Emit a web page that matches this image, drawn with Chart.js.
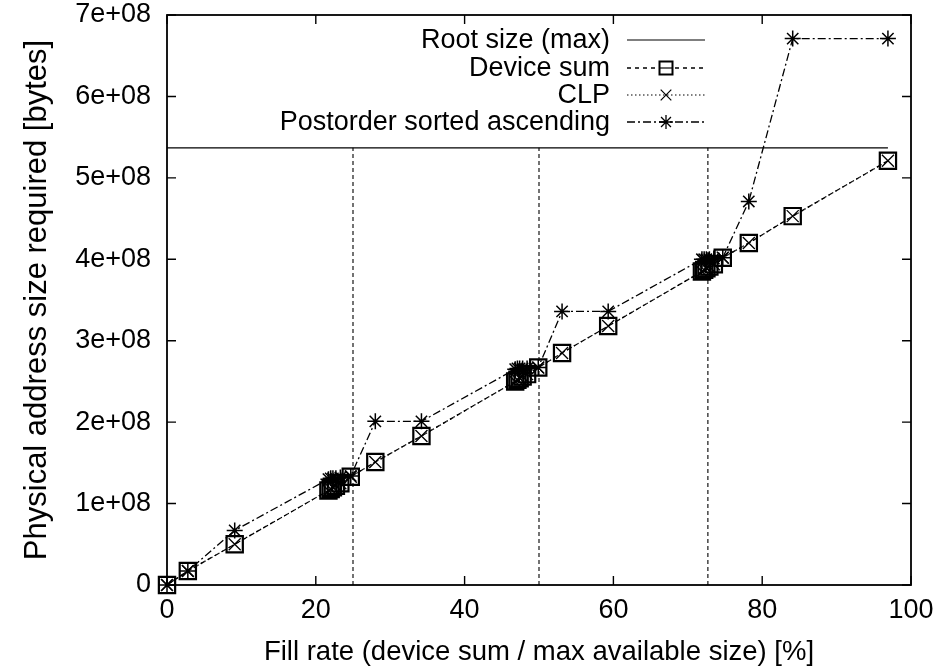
<!DOCTYPE html>
<html>
<head>
<meta charset="utf-8">
<script src="https://cdn.jsdelivr.net/npm/chart.js@4.4.1/dist/chart.umd.min.js"></script>
<style>
  body { margin: 0; background: #fff; }
  #wrap { width: 943px; height: 671px; }
</style>
</head>
<body>
<div id="wrap"><canvas id="addrChart" width="943" height="671"></canvas></div>
<script>
// =====================================
// DATA
// =====================================
const fillRate = [0, 2.8, 9.1, 21.7, 22.0, 22.3, 22.7, 23.3, 24.7, 28.0, 34.2,
  46.8, 47.1, 47.4, 47.8, 48.4, 49.9, 53.1, 59.3,
  71.9, 72.2, 72.5, 72.9, 73.5, 74.7, 78.2, 84.1, 96.9];

const deviceSum = [0, 1.72e7, 5.0e7, 1.16e8, 1.18e8, 1.20e8, 1.22e8, 1.25e8, 1.33e8, 1.51e8, 1.83e8,
  2.50e8, 2.52e8, 2.54e8, 2.56e8, 2.59e8, 2.67e8, 2.85e8, 3.18e8,
  3.85e8, 3.87e8, 3.89e8, 3.91e8, 3.94e8, 4.02e8, 4.20e8, 4.53e8, 5.21e8];

const clpSize = [0, 1.72e7, 5.0e7, 1.16e8, 1.18e8, 1.20e8, 1.22e8, 1.25e8, 1.33e8, 1.51e8, 1.83e8,
  2.50e8, 2.52e8, 2.54e8, 2.56e8, 2.59e8, 2.67e8, 2.85e8, 3.18e8,
  3.85e8, 3.87e8, 3.89e8, 3.91e8, 3.94e8, 4.02e8, 4.20e8, 4.53e8, 5.21e8];

const postorderSize = [0, 1.72e7, 6.7e7, 1.30e8, 1.31e8, 1.31e8, 1.31e8, 1.32e8, 1.34e8, 2.01e8, 2.01e8,
  2.65e8, 2.66e8, 2.66e8, 2.66e8, 2.66e8, 2.67e8, 3.36e8, 3.36e8,
  4.00e8, 4.00e8, 4.00e8, 4.00e8, 4.01e8, 4.02e8, 4.71e8, 6.71e8, 6.71e8];

const rootSize = 536870912;          // Root size (max)
const rootRange = [0, 96.9];
const boundaryRates = [25, 50, 72.7]; // vertical dashed markers

const xTicks = [0, 20, 40, 60, 80, 100];
const yTickLabels = ["0", "1e+08", "2e+08", "3e+08", "4e+08", "5e+08", "6e+08", "7e+08"];

const FONT = "'Liberation Sans', Arial, Helvetica, sans-serif";
const FONT_SIZE = 27;

function toPoints(xs, ys) {
  return xs.map((x, i) => ({ x: x, y: ys[i] }));
}

// =====================================
// DATASETS
// =====================================
const datasets = [
  {
    label: "Root size (max)",
    data: rootRange.map(x => ({ x: x, y: rootSize })),
    borderColor: "#000",
    borderWidth: 1.2,
    pointRadius: 0
  },
  {
    label: "Device sum",
    data: toPoints(fillRate, deviceSum),
    borderColor: "#000",
    borderWidth: 1.3,
    borderDash: [4, 4],
    pointStyle: "rect",
    pointRadius: 11.5,
    pointBorderWidth: 2.2,
    pointBackgroundColor: "rgba(255,255,255,0)",
    pointBorderColor: "#000"
  },
  {
    label: "CLP",
    data: toPoints(fillRate, clpSize),
    borderColor: "#000",
    borderWidth: 1.2,
    borderDash: [1.5, 2.5],
    pointStyle: "crossRot",
    pointRadius: 8.5,
    pointBorderWidth: 1.3,
    pointBorderColor: "#000"
  },
  {
    label: "Postorder sorted ascending",
    data: toPoints(fillRate, postorderSize),
    borderColor: "#000",
    borderWidth: 1.3,
    borderDash: [8, 3, 2, 3],
    pointStyle: "star",
    pointRadius: 8,
    pointBorderWidth: 1.5,
    pointBorderColor: "#000"
  }
];

boundaryRates.forEach(r => {
  datasets.push({
    label: "",
    data: [{ x: r, y: 0 }, { x: r, y: rootSize }],
    borderColor: "#000",
    borderWidth: 1.1,
    borderDash: [4, 3],
    pointRadius: 0
  });
});

datasets.forEach(d => { d.clip = false; d.tension = 0; d.fill = false; });

// =====================================
// PLUGINS: gnuplot-style frame + inward ticks, legend
// =====================================
const framePlugin = {
  id: "frame",
  afterDatasetsDraw(chart) {
    const { ctx, chartArea: a, scales } = chart;
    const len = 9;
    ctx.save();
    ctx.strokeStyle = "#000";
    ctx.lineWidth = 1.8;
    ctx.setLineDash([]);
    ctx.strokeRect(a.left, a.top, a.right - a.left, a.bottom - a.top);
    ctx.lineWidth = 1.4;
    ctx.beginPath();
    yTickLabels.forEach((_, i) => {
      const y = scales.y.getPixelForValue(i * 1e8);
      ctx.moveTo(a.left, y); ctx.lineTo(a.left + len, y);
      ctx.moveTo(a.right, y); ctx.lineTo(a.right - len, y);
    });
    xTicks.forEach(v => {
      const x = scales.x.getPixelForValue(v);
      ctx.moveTo(x, a.bottom); ctx.lineTo(x, a.bottom - len);
      ctx.moveTo(x, a.top); ctx.lineTo(x, a.top + len);
    });
    ctx.stroke();
    ctx.restore();
  }
};

const legendPlugin = {
  id: "gpLegend",
  afterDraw(chart) {
    const ctx = chart.ctx;
    const textRight = 610;
    const lineLeft = 627, lineRight = 705;
    const mid = (lineLeft + lineRight) / 2;
    const rows = [40, 68, 95, 122];
    ctx.save();
    ctx.font = FONT_SIZE + "px " + FONT;
    ctx.fillStyle = "#000";
    ctx.textAlign = "right";
    ctx.textBaseline = "middle";
    chart.data.datasets.slice(0, 4).forEach((d, i) => {
      const y = rows[i];
      ctx.fillText(d.label, textRight, y + 1);
      ctx.strokeStyle = "#000";
      ctx.lineWidth = d.borderWidth;
      ctx.setLineDash(d.borderDash || []);
      ctx.beginPath();
      ctx.moveTo(lineLeft, y);
      ctx.lineTo(lineRight, y);
      ctx.stroke();
      ctx.setLineDash([]);
      if (!d.pointRadius) return;
      if (d.pointStyle === "rect") {
        // key square: white box with a bar through it
        const s = 6.5;
        ctx.fillStyle = "#fff";
        ctx.fillRect(mid - s, y - s, 2 * s, 2 * s);
        ctx.lineWidth = 2;
        ctx.strokeRect(mid - s, y - s, 2 * s, 2 * s);
        ctx.lineWidth = 1.2;
        ctx.beginPath();
        ctx.moveTo(mid - s, y);
        ctx.lineTo(mid + s, y);
        ctx.stroke();
        ctx.fillStyle = "#000";
      } else {
        Chart.helpers.drawPoint(ctx, {
          pointStyle: d.pointStyle,
          radius: d.pointRadius - 1,
          rotation: 0,
          borderWidth: d.pointBorderWidth
        }, mid, y);
      }
    });
    ctx.restore();
  }
};

// =====================================
// CHART
// =====================================
const chartInstance = new Chart(document.getElementById("addrChart"), {
  type: "line",
  data: { datasets: datasets },
  plugins: [framePlugin, legendPlugin],
  options: {
    responsive: false,
    animation: false,
    layout: { padding: { left: 0, right: 32, top: 15, bottom: 0 } },
    plugins: {
      legend: { display: false },
      tooltip: { enabled: false }
    },
    scales: {
      x: {
        type: "linear",
        min: 0,
        max: 100,
        afterFit: s => { s.height = 86; s.paddingLeft = 0; s.paddingRight = 0; },
        afterBuildTicks: s => { s.ticks = xTicks.map(v => ({ value: v })); },
        grid: { display: false, drawTicks: false },
        border: { display: false },
        ticks: {
          color: "#000",
          padding: 9,
          maxRotation: 0,
          font: { family: FONT, size: FONT_SIZE }
        },
        title: {
          display: true,
          text: "Fill rate (device sum / max available size) [%]",
          color: "#000",
          padding: { top: 0, bottom: 2 },
          font: { family: FONT, size: 27.5 }
        }
      },
      y: {
        type: "linear",
        min: 0,
        max: 7e8,
        afterFit: s => { s.width = 167; s.paddingTop = 0; s.paddingBottom = 0; },
        afterBuildTicks: s => { s.ticks = yTickLabels.map((_, i) => ({ value: i * 1e8 })); },
        grid: { display: false, drawTicks: false },
        border: { display: false },
        ticks: {
          color: "#000",
          padding: 16,
          font: { family: FONT, size: FONT_SIZE },
          callback: v => yTickLabels[Math.round(v / 1e8)]
        },
        title: {
          display: true,
          text: "Physical address size required [bytes]",
          color: "#000",
          padding: { top: 19, bottom: 0 },
          font: { family: FONT, size: 31 }
        }
      }
    }
  }
});
</script>
</body>
</html>
